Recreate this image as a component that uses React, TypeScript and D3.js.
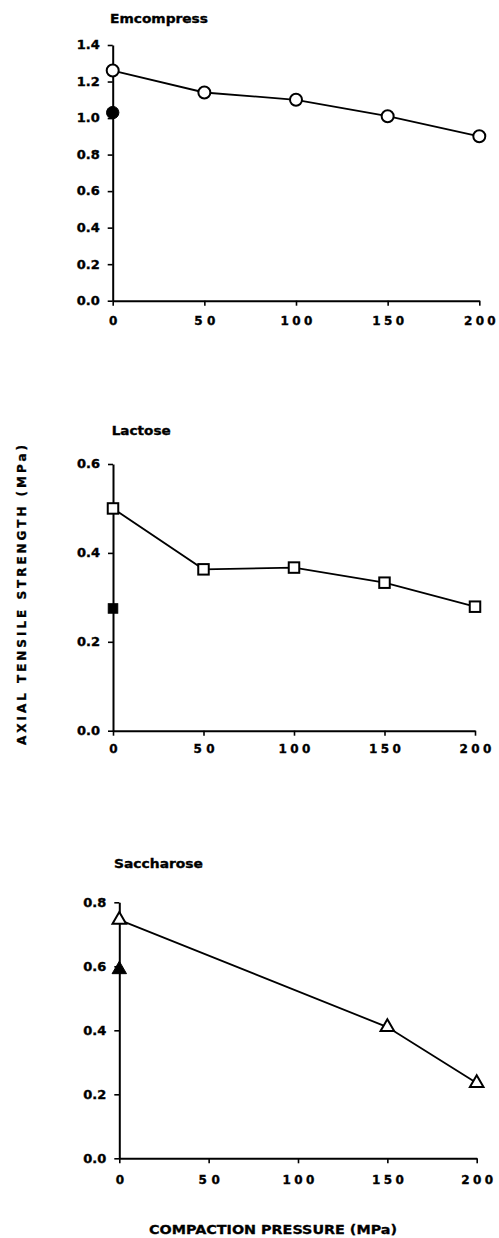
import React, { useEffect, useRef } from 'react';
import * as d3 from 'd3';

// ---- data ----
const pressures = [0, 50, 100, 150, 200];
const xTickValues = [0, 50, 100, 150, 200];

const emcompressOpen = [1.26, 1.14, 1.1, 1.01, 0.9];
const emcompressFilled = 1.03;
const emcompressYTicks = [0, 0.2, 0.4, 0.6, 0.8, 1.0, 1.2, 1.4];

const lactoseOpen = [0.5, 0.363, 0.367, 0.333, 0.279];
const lactoseFilled = 0.275;
const lactoseYTicks = [0, 0.2, 0.4, 0.6];

const saccharosePressures = [0, 150, 200];
const saccharoseOpen = [0.745, 0.41, 0.235];
const saccharoseFilled = 0.59;
const saccharoseYTicks = [0, 0.2, 0.4, 0.6, 0.8];

const panelTitles = ['Emcompress', 'Lactose', 'Saccharose'];
const xAxisTitle = 'COMPACTION PRESSURE (MPa)';
const yAxisTitle = 'AXIAL TENSILE STRENGTH (MPa)';

const FONT = '"DejaVu Sans", Arial, sans-serif';

export default function App() {
  const ref = useRef<SVGSVGElement | null>(null);

  useEffect(() => {
    const svg = d3.select(ref.current);
    svg.selectAll('*').remove();

    const panels = [
      {
        title: panelTitles[0], xs: pressures, open: emcompressOpen, filled: emcompressFilled, yTicks: emcompressYTicks,
        x0: 112.7, x1: 479.3, yTop: 45, yBottom: 300.7, titleX: 110, titleY: 22.5, titleLen: 98, xLabelDy: 24, shape: 'circle',
      },
      {
        title: panelTitles[1], xs: pressures, open: lactoseOpen, filled: lactoseFilled, yTicks: lactoseYTicks,
        x0: 113, x1: 475, yTop: 464, yBottom: 730.7, titleX: 111.7, titleY: 435, titleLen: 59, xLabelDy: 22, shape: 'square',
      },
      {
        title: panelTitles[2], xs: saccharosePressures, open: saccharoseOpen, filled: saccharoseFilled, yTicks: saccharoseYTicks,
        x0: 119.3, x1: 476.7, yTop: 902.3, yBottom: 1158.3, titleX: 114, titleY: 868, titleLen: 89, xLabelDy: 25.5, shape: 'triangle',
      },
    ];

    panels.forEach((P) => {
      const yMax = d3.max(P.yTicks) as number;
      const x = d3.scaleLinear().domain([0, 200]).range([P.x0, P.x1]);
      const y = d3.scaleLinear().domain([0, yMax]).range([P.yBottom, P.yTop]);
      const g = svg.append('g');

      // title
      g.append('text')
        .attr('x', P.titleX)
        .attr('y', P.titleY)
        .attr('font-family', FONT)
        .attr('font-weight', 'bold')
        .attr('font-size', 12.5)
        .attr('textLength', P.titleLen)
        .attr('lengthAdjust', 'spacingAndGlyphs')
        .attr('fill', '#000')
        .attr('stroke', '#000')
        .attr('stroke-width', 0.35)
        .text(P.title);

      // y axis
      const yAx = g.append('g')
        .attr('transform', `translate(${P.x0},0)`)
        .call(
          d3.axisLeft(y).tickValues(P.yTicks).tickFormat(d3.format('.1f')).tickSize(5).tickSizeOuter(0).tickPadding(8)
        );
      yAx.attr('font-family', FONT).attr('font-size', 12);
      yAx.select('.domain').attr('stroke', '#000').attr('stroke-width', 2);
      yAx.selectAll('.tick line').attr('stroke', '#000').attr('stroke-width', 1.6);
      yAx.selectAll('.tick text')
        .attr('font-weight', 'bold')
        .attr('fill', '#000')
        .attr('stroke', '#000')
        .attr('stroke-width', 0.35)
        .attr('textLength', 23)
        .attr('lengthAdjust', 'spacingAndGlyphs');

      // x axis
      const xAx = g.append('g')
        .attr('transform', `translate(0,${P.yBottom})`)
        .call(d3.axisBottom(x).tickValues(xTickValues).tickFormat(d3.format('d')).tickSize(5).tickSizeOuter(0));
      xAx.attr('font-family', FONT).attr('font-size', 12);
      xAx.select('.domain').attr('stroke', '#000').attr('stroke-width', 2);
      xAx.selectAll('.tick line').attr('stroke', '#000').attr('stroke-width', 1.6);
      xAx.selectAll<SVGTextElement, number>('.tick text')
        .attr('font-weight', 'bold')
        .attr('fill', '#000')
        .attr('stroke', '#000')
        .attr('stroke-width', 0.35)
        .attr('dy', null)
        .attr('y', P.xLabelDy)
        .each(function (d) {
          const s = String(d);
          if (s.length > 1) {
            d3.select(this).attr('textLength', s.length * 10.6).attr('lengthAdjust', 'spacing');
          }
        });

      // data line
      const pts: [number, number][] = P.xs.map((xv, i) => [xv, P.open[i]]);
      const line = d3.line<[number, number]>().x((d) => x(d[0])).y((d) => y(d[1]));
      g.append('path')
        .attr('d', line(pts) as string)
        .attr('fill', 'none')
        .attr('stroke', '#000')
        .attr('stroke-width', 1.8);

      // markers
      const drawMarker = (cx: number, cy: number, filled: boolean) => {
        if (P.shape === 'circle') {
          g.append('circle')
            .attr('cx', cx).attr('cy', cy)
            .attr('r', filled ? 6.2 : 6)
            .attr('fill', filled ? '#000' : '#fff')
            .attr('stroke', '#000')
            .attr('stroke-width', filled ? 1 : 2);
        } else if (P.shape === 'square') {
          const s = filled ? 9.5 : 10.5;
          g.append('rect')
            .attr('x', cx - s / 2).attr('y', cy - s / 2)
            .attr('width', s).attr('height', s)
            .attr('fill', filled ? '#000' : '#fff')
            .attr('stroke', '#000')
            .attr('stroke-width', filled ? 1 : 2);
        } else {
          g.append('path')
            .attr('d', d3.symbol().type(d3.symbolTriangle).size(filled ? 90 : 80)() as string)
            .attr('transform', `translate(${cx},${cy})`)
            .attr('fill', filled ? '#000' : '#fff')
            .attr('stroke', '#000')
            .attr('stroke-width', filled ? 1 : 2)
            .attr('stroke-linejoin', 'miter');
        }
      };

      pts.forEach((d) => drawMarker(x(d[0]), y(d[1]), false));
      drawMarker(x(0), y(P.filled), true);
    });

    // axis titles
    svg.append('text')
      .attr('transform', 'translate(26,595) rotate(-90)')
      .attr('text-anchor', 'middle')
      .attr('font-family', FONT)
      .attr('font-weight', 'bold')
      .attr('font-size', 12)
      .attr('textLength', 300)
      .attr('lengthAdjust', 'spacing')
      .attr('fill', '#000')
      .attr('stroke', '#000')
      .attr('stroke-width', 0.3)
      .text(yAxisTitle);

    svg.append('text')
      .attr('x', 273)
      .attr('y', 1234)
      .attr('text-anchor', 'middle')
      .attr('font-family', FONT)
      .attr('font-weight', 'bold')
      .attr('font-size', 12.5)
      .attr('textLength', 248)
      .attr('lengthAdjust', 'spacingAndGlyphs')
      .attr('fill', '#000')
      .attr('stroke', '#000')
      .attr('stroke-width', 0.3)
      .text(xAxisTitle);
  }, []);

  return (
    <svg
      ref={ref}
      width={499}
      height={1238}
      style={{ position: 'absolute', left: 0, top: 0, background: '#fff', display: 'block' }}
    />
  );
}
